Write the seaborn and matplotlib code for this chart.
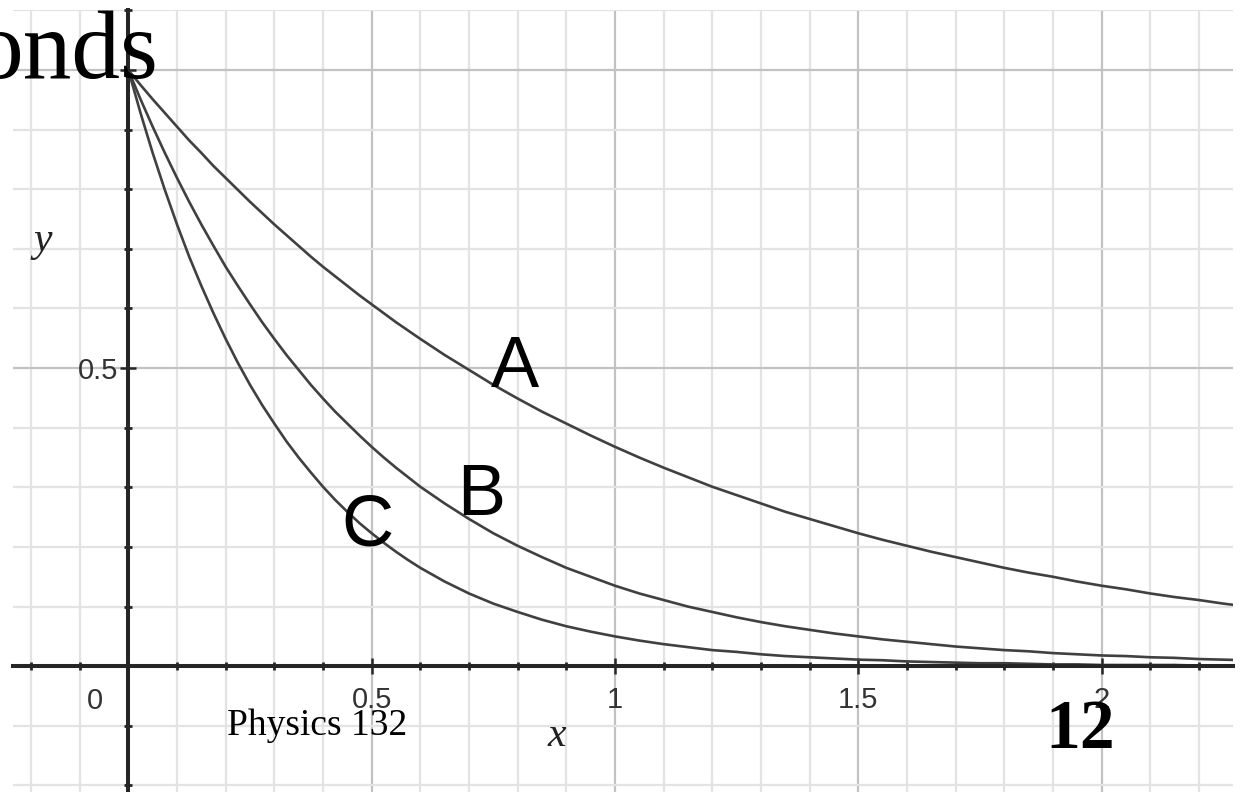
import matplotlib
matplotlib.use("Agg")
import matplotlib.pyplot as plt
from matplotlib.ticker import MultipleLocator, FixedLocator, FixedFormatter
import seaborn as sns
import pandas as pd

# ---- data ----
x_vals = [0.0, 0.025, 0.05, 0.075, 0.1, 0.125, 0.15, 0.175, 0.2, 0.225, 0.25, 0.275,
          0.3, 0.325, 0.35, 0.375, 0.4, 0.425, 0.45, 0.475, 0.5, 0.525, 0.55, 0.575,
          0.6, 0.65, 0.7, 0.75, 0.8, 0.85, 0.9, 0.95, 1.0, 1.05, 1.1, 1.15, 1.2, 1.25,
          1.3, 1.35, 1.4, 1.45, 1.5, 1.55, 1.6, 1.65, 1.7, 1.75, 1.8, 1.85, 1.9, 1.95,
          2.0, 2.05, 2.1, 2.15, 2.2, 2.25, 2.3]
curve_a = [1.000, 0.975, 0.951, 0.928, 0.905, 0.882, 0.861, 0.839, 0.819, 0.799, 0.779,
           0.760, 0.741, 0.723, 0.705, 0.687, 0.670, 0.654, 0.638, 0.622, 0.607, 0.592,
           0.577, 0.563, 0.549, 0.522, 0.497, 0.472, 0.449, 0.427, 0.407, 0.387, 0.368,
           0.350, 0.333, 0.317, 0.301, 0.287, 0.273, 0.259, 0.247, 0.235, 0.223, 0.212,
           0.202, 0.192, 0.183, 0.174, 0.165, 0.157, 0.150, 0.142, 0.135, 0.129, 0.122,
           0.116, 0.111, 0.105, 0.100]
curve_b = [1.000, 0.951, 0.905, 0.861, 0.819, 0.779, 0.741, 0.705, 0.670, 0.638, 0.607,
           0.577, 0.549, 0.522, 0.497, 0.472, 0.449, 0.427, 0.407, 0.387, 0.368, 0.350,
           0.333, 0.317, 0.301, 0.273, 0.247, 0.223, 0.202, 0.183, 0.165, 0.150, 0.135,
           0.122, 0.111, 0.100, 0.091, 0.082, 0.074, 0.067, 0.061, 0.055, 0.050, 0.045,
           0.041, 0.037, 0.033, 0.030, 0.027, 0.025, 0.022, 0.020, 0.018, 0.017, 0.015,
           0.014, 0.012, 0.011, 0.010]
curve_c = [1.000, 0.928, 0.861, 0.799, 0.741, 0.687, 0.638, 0.592, 0.549, 0.509, 0.472,
           0.438, 0.407, 0.377, 0.350, 0.325, 0.301, 0.279, 0.259, 0.240, 0.223, 0.207,
           0.192, 0.178, 0.165, 0.142, 0.122, 0.105, 0.091, 0.078, 0.067, 0.058, 0.050,
           0.043, 0.037, 0.032, 0.027, 0.024, 0.020, 0.017, 0.015, 0.013, 0.011, 0.010,
           0.008, 0.007, 0.006, 0.005, 0.005, 0.004, 0.003, 0.003, 0.002, 0.002, 0.002,
           0.002, 0.001, 0.001, 0.001]
curve_names = ["A", "B", "C"]
x_tick_vals = [0.5, 1.0, 1.5, 2.0]
x_tick_labels = ["0.5", "1", "1.5", "2"]
y_tick_vals = [0.5, 1.0]
y_tick_labels = ["0.5", ""]

df = pd.concat([
    pd.DataFrame({"x": x_vals, "y": vals, "curve": name})
    for name, vals in zip(curve_names, [curve_a, curve_b, curve_c])
])

sns.set_style("white")
plt.rcParams["font.family"] = ["Liberation Sans", "DejaVu Sans"]

W, H = 1240, 792
fig = plt.figure(figsize=(W / 100, H / 100), dpi=100)
ax = fig.add_axes([13 / W, 0, 1220 / W, (H - 10.4) / H])
ax.set_xlim(-0.237, 2.27)
ax.set_ylim(-0.211, 1.1)

# grid
ax.xaxis.set_minor_locator(MultipleLocator(0.1))
ax.yaxis.set_minor_locator(MultipleLocator(0.1))
ax.xaxis.set_major_locator(FixedLocator(x_tick_vals))
ax.yaxis.set_major_locator(FixedLocator(y_tick_vals))
ax.xaxis.set_major_formatter(FixedFormatter(x_tick_labels))
ax.yaxis.set_major_formatter(FixedFormatter(y_tick_labels))
ax.grid(which="minor", color="#e3e3e3", linewidth=1.6, zorder=0)
ax.grid(which="major", color="#c2c2c2", linewidth=1.6, zorder=0)
ax.set_axisbelow(True)

sns.lineplot(data=df, x="x", y="y", hue="curve", palette=["#404040"] * 3,
             linewidth=1.9, legend=False, ax=ax, sort=False, estimator=None)

# axes through origin
for s in ["top", "right"]:
    ax.spines[s].set_visible(False)
ax.spines["left"].set_position(("data", 0))
ax.spines["bottom"].set_position(("data", 0))
for s in ["left", "bottom"]:
    ax.spines[s].set_linewidth(2.9)
    ax.spines[s].set_color("#262626")
    ax.spines[s].set_zorder(3)
ax.tick_params(which="both", bottom=True, left=True, top=False, right=False)
ax.tick_params(which="major", direction="inout", length=12, width=1.8,
               color="#262626", labelsize=21, labelcolor="#333333", pad=8)
ax.tick_params(which="minor", direction="inout", length=6, width=2.0, color="#262626")
ax.tick_params(axis="y", which="major", pad=1)
ax.set_xlabel("")
ax.set_ylabel("")
ax.text(-0.068, -0.058, "0", fontsize=21, color="#333333", ha="center", va="center")

# curve labels
for name, (lx, ly) in zip(curve_names, [(0.795, 0.50), (0.725, 0.284), (0.492, 0.233)]):
    ax.text(lx, ly, name, fontsize=52, ha="center", va="center", color="black",
            family=["Liberation Sans", "DejaVu Sans"])

# axis names
ax.text(-0.175, 0.714, "y", fontsize=30, style="italic", ha="center", va="center",
        family=["Liberation Serif", "DejaVu Serif"], color="#222222")
ax.text(0.881, -0.117, "x", fontsize=30, style="italic", ha="center", va="center",
        family=["Liberation Serif", "DejaVu Serif"], color="#222222")

# slide overlay texts
fig.text(158 / W, 1 - 78 / H, "onds", fontsize=70, ha="right", va="baseline",
         family=["Liberation Serif", "DejaVu Serif"], color="black")
fig.text(227 / W, 1 - 735 / H, "Physics 132", fontsize=27, ha="left", va="baseline",
         family=["Liberation Serif", "DejaVu Serif"], color="black")
fig.text(1045 / W, 1 - 748 / H, "12", fontsize=50, fontweight="bold", ha="left",
         va="baseline", family=["Liberation Serif", "DejaVu Serif"], color="black")

fig.savefig("out.png", dpi=100)
